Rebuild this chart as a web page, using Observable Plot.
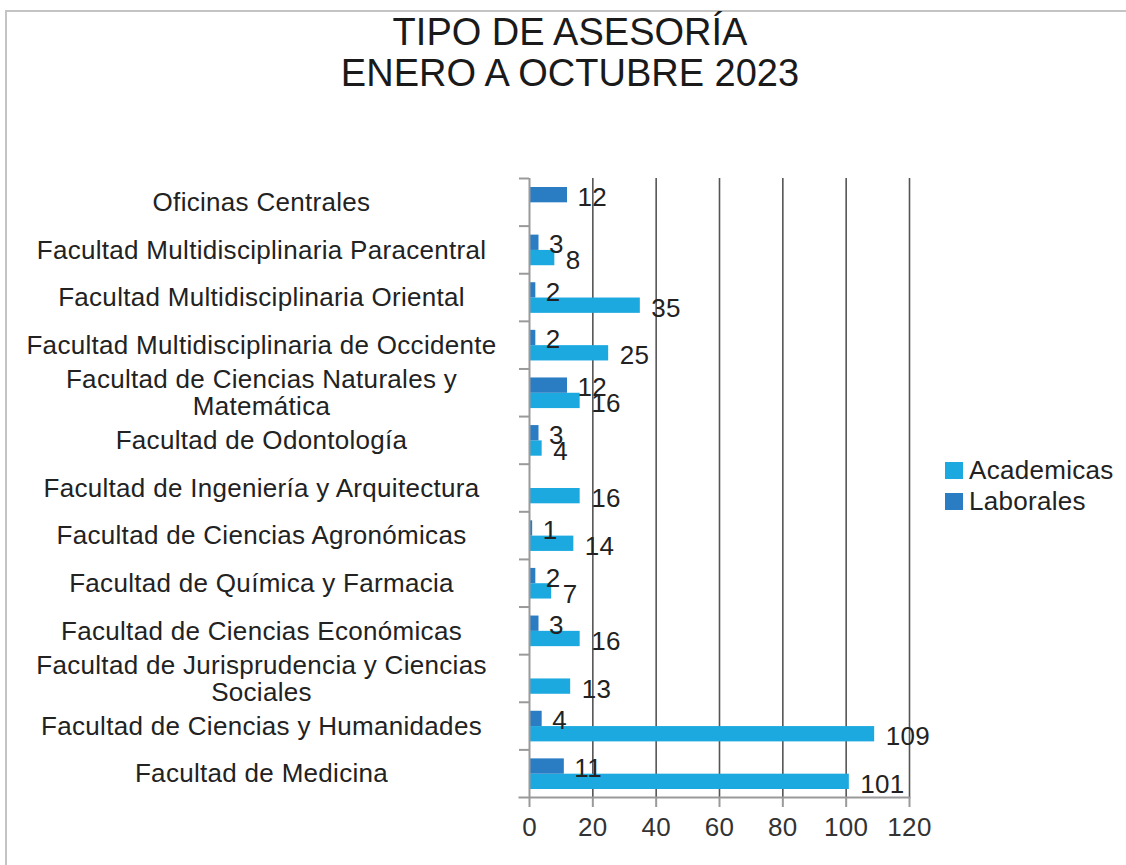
<!DOCTYPE html>
<html>
<head>
<meta charset="utf-8">
<script src="https://cdn.jsdelivr.net/npm/d3@7"></script>
<script src="https://cdn.jsdelivr.net/npm/@observablehq/plot@0.6"></script>
<style>
  html, body { margin: 0; padding: 0; overflow: hidden; background: #fff; }
  #wrap { position: relative; width: 1126px; height: 865px; overflow: hidden; background: #fff;
          font-family: "Liberation Sans", Arial, sans-serif; color: #222; }
  #border { position: absolute; left: 5px; top: 10px; width: 1300px; height: 1000px;
            border-left: 2px solid #c4c4c4; border-top: 2px solid #c4c4c4; pointer-events: none; }
  #chart { position: absolute; left: 0; top: 0; }
  #title { position: absolute; left: 0; top: 12px; width: 1140px; text-align: center;
           font-size: 38px; line-height: 41px; color: #1a1a1a; }
  #legend { position: absolute; left: 945px; top: 455px; font-size: 26px; line-height: 31px; color: #222; letter-spacing: 0.3px; }
  .item { display: flex; align-items: center; height: 31px; }
  .sw { width: 18px; height: 17px; margin-right: 6px; }
</style>
</head>
<body>
<div id="wrap">
  <div id="chart"></div>
  <div id="border"></div>
  <div id="title">TIPO DE ASESORÍA<br>ENERO A OCTUBRE 2023</div>
  <div id="legend"></div>
</div>
<script>
const categories = [
  "Oficinas Centrales",
  "Facultad Multidisciplinaria Paracentral",
  "Facultad Multidisciplinaria Oriental",
  "Facultad Multidisciplinaria de Occidente",
  "Facultad de Ciencias Naturales y Matemática",
  "Facultad de Odontología",
  "Facultad de Ingeniería y Arquitectura",
  "Facultad de Ciencias Agronómicas",
  "Facultad de Química y Farmacia",
  "Facultad de Ciencias Económicas",
  "Facultad de Jurisprudencia y Ciencias Sociales",
  "Facultad de Ciencias y Humanidades",
  "Facultad de Medicina"
];
const categoryLabels = [
  "Oficinas Centrales",
  "Facultad Multidisciplinaria Paracentral",
  "Facultad Multidisciplinaria Oriental",
  "Facultad Multidisciplinaria de Occidente",
  "Facultad de Ciencias Naturales y\nMatemática",
  "Facultad de Odontología",
  "Facultad de Ingeniería y Arquitectura",
  "Facultad de Ciencias Agronómicas",
  "Facultad de Química y Farmacia",
  "Facultad de Ciencias Económicas",
  "Facultad de Jurisprudencia y Ciencias\nSociales",
  "Facultad de Ciencias y Humanidades",
  "Facultad de Medicina"
];
const academicas = [null, 8, 35, 25, 16, 4, 16, 14, 7, 16, 13, 109, 101];
const laborales  = [12, 3, 2, 2, 12, 3, null, 1, 2, 3, null, 4, 11];
const seriesNames = ["Academicas", "Laborales"];
const seriesColors = ["#1ca9e0", "#2a7dc3"];
const xTicks = [0, 20, 40, 60, 80, 100, 120];

const aca = categories.map((c, i) => ({category: c, value: academicas[i]})).filter(d => d.value != null);
const lab = categories.map((c, i) => ({category: c, value: laborales[i]})).filter(d => d.value != null);
const labelOf = new Map(categories.map((c, i) => [c, categoryLabels[i]]));

const W = 1126, H = 865, mTop = 178, mBottom = 68, mLeft = 529, mRight = 217;
const band = (H - mTop - mBottom) / categories.length;

const chart = Plot.plot({
  width: W, height: H,
  marginTop: mTop, marginBottom: mBottom, marginLeft: mLeft, marginRight: mRight,
  style: {fontFamily: '"Liberation Sans", Arial, sans-serif', fontSize: "26px", letterSpacing: "0.3px", color: "#222", background: "transparent", overflow: "visible"},
  x: {domain: [0, 120]},
  y: {domain: categories, padding: 0, round: false},
  marks: [
    Plot.ruleX(xTicks.slice(1), {stroke: "#555", strokeWidth: 1.6}),
    Plot.barX(aca, {x: "value", y: "category", fill: seriesColors[0], insetTop: 24.3, insetBottom: 8}),
    Plot.barX(lab, {x: "value", y: "category", fill: seriesColors[1], insetTop: 9, insetBottom: 23.3}),
    Plot.ruleX([0], {stroke: "#9a9a9a", strokeWidth: 2}),
    Plot.frame({anchor: "bottom", stroke: "#9a9a9a", strokeWidth: 2, insetLeft: -10}),
    Plot.axisY({anchor: "left", tickSize: 10, tickFormat: () => "", stroke: "#9a9a9a", strokeWidth: 2, dy: -band / 2, label: null}),
    Plot.axisX({ticks: xTicks, tickSize: 10, tickPadding: 10, stroke: "#9a9a9a", strokeWidth: 2, fill: "#333", label: null}),
    Plot.text(categories, {y: d => d, text: d => labelOf.get(d), frameAnchor: "left", dx: -268,
      textAnchor: "middle", lineAnchor: "middle", lineHeight: 1.05, fill: "#222"}),
    Plot.text(aca, {x: "value", y: "category", text: d => String(d.value), textAnchor: "start", dx: 11, dy: 11, fill: "#222"}),
    Plot.text(lab, {x: "value", y: "category", text: d => String(d.value), textAnchor: "start", dx: 10, dy: -5, fill: "#222"})
  ]
});
document.getElementById("chart").appendChild(chart);

const legend = document.getElementById("legend");
seriesNames.forEach((name, i) => {
  const item = document.createElement("div");
  item.className = "item";
  const sw = document.createElement("div");
  sw.className = "sw";
  sw.style.background = seriesColors[i];
  const t = document.createElement("span");
  t.textContent = name;
  item.appendChild(sw);
  item.appendChild(t);
  legend.appendChild(item);
});
</script>
</body>
</html>
